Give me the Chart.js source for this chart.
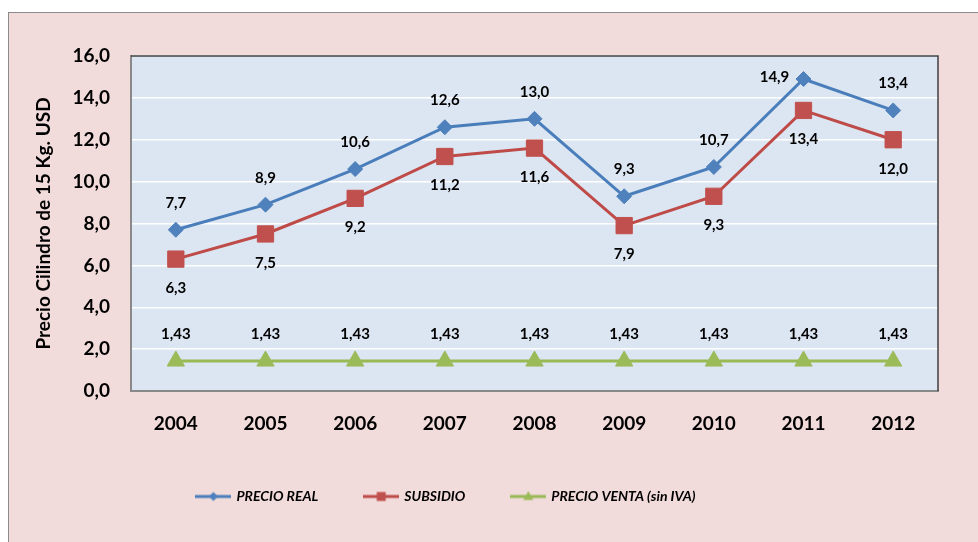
<!DOCTYPE html>
<html>
<head>
<meta charset="utf-8">
<script src="https://cdn.jsdelivr.net/npm/chart.js@4.4.0/dist/chart.umd.min.js"></script>
<style>
html,body{margin:0;padding:0;background:#fff;width:978px;height:542px;overflow:hidden;}
#frame{position:absolute;left:8px;top:12px;width:990px;height:560px;background:#f2dcdb;border-left:1px solid #8c8c8c;border-top:1px solid #8c8c8c;}
#c{position:absolute;left:0;top:0;}
</style>
</head>
<body>
<div id="frame"></div>
<canvas id="c" width="978" height="542"></canvas>
<script>
// ---- data ----
const years = ['2004','2005','2006','2007','2008','2009','2010','2011','2012'];
const precioReal = [7.7, 8.9, 10.6, 12.6, 13.0, 9.3, 10.7, 14.9, 13.4];
const subsidio = [6.3, 7.5, 9.2, 11.2, 11.6, 7.9, 9.3, 13.4, 12.0];
const precioVenta = [1.43, 1.43, 1.43, 1.43, 1.43, 1.43, 1.43, 1.43, 1.43];
const seriesNames = ['PRECIO REAL', 'SUBSIDIO', 'PRECIO VENTA (sin IVA)'];
const yTickValues = [0, 2, 4, 6, 8, 10, 12, 14, 16];
const yTitle = 'Precio Cilindro de 15 Kg. USD';

// ---- styles ----
const FONT = 'Lato';
const colors = {
  real: {line: '#4a7ebb', fill: '#4f81bd'},
  sub: {line: '#be4b48', fill: '#c0504d'},
  venta: {line: '#98b954', fill: '#9bbb59'}
};

function fmt(v, d) { return v.toFixed(d).replace('.', ','); }

// legend images: line with marker
function legendImage(col, kind) {
  const c = document.createElement('canvas');
  c.width = 36; c.height = 16;
  const g = c.getContext('2d');
  g.strokeStyle = col.line; g.lineWidth = 3;
  g.beginPath(); g.moveTo(0, 8); g.lineTo(36, 8); g.stroke();
  g.fillStyle = col.fill;
  g.beginPath();
  if (kind === 'diamond') {
    g.moveTo(18, 3.5); g.lineTo(22.5, 8); g.lineTo(18, 12.5); g.lineTo(13.5, 8);
  } else if (kind === 'square') {
    g.rect(13.5, 3.5, 9, 9);
  } else {
    g.moveTo(18, 2.5); g.lineTo(23, 11.5); g.lineTo(13, 11.5);
  }
  g.closePath(); g.fill();
  return c;
}
const legendImgs = [
  legendImage(colors.real, 'diamond'),
  legendImage(colors.sub, 'square'),
  legendImage(colors.venta, 'triangle')
];

const plotAreaPlugin = {
  id: 'plotArea',
  beforeDraw(chart) {
    const {ctx, chartArea: a} = chart;
    ctx.save();
    ctx.fillStyle = '#dce6f2';
    ctx.fillRect(a.left, a.top, a.right - a.left, a.bottom - a.top);
    ctx.restore();
  },
  beforeDatasetsDraw(chart) {
    const {ctx, chartArea: a} = chart;
    ctx.save();
    ctx.strokeStyle = '#3f3f3f';
    ctx.lineWidth = 1.5;
    ctx.beginPath();
    ctx.moveTo(a.left, a.top); ctx.lineTo(a.right, a.top); ctx.lineTo(a.right, a.bottom);
    ctx.stroke();
    ctx.restore();
  }
};

const pointLabelsPlugin = {
  id: 'pointLabels',
  afterDatasetsDraw(chart) {
    const ctx = chart.ctx;
    ctx.save();
    ctx.font = 'bold 15px ' + FONT;
    ctx.fillStyle = '#000';
    ctx.textAlign = 'center';
    ctx.textBaseline = 'middle';
    chart.data.datasets.forEach((ds, i) => {
      const meta = chart.getDatasetMeta(i);
      meta.data.forEach((pt, j) => {
        const pos = (ds.labelPos && ds.labelPos[j]) || ds.labelDefault;
        let x = pt.x, y = pt.y;
        if (pos === 'above') y -= 27;
        else if (pos === 'below') y += 29;
        else if (pos === 'left') { x -= 29; y -= 2; }
        ctx.fillText(fmt(ds.data[j], ds.decimals), x, y);
      });
    });
    ctx.restore();
  }
};

const tickFont = {family: FONT, size: 19, weight: 'bold'};

new Chart(document.getElementById('c'), {
  type: 'line',
  data: {
    labels: years,
    datasets: [
      {
        label: seriesNames[0], data: precioReal,
        borderColor: colors.real.line, backgroundColor: colors.real.fill,
        pointBackgroundColor: colors.real.fill, pointBorderColor: colors.real.fill,
        borderWidth: 3, pointStyle: 'rectRot', pointRadius: 7.5, pointBorderWidth: 1,
        tension: 0, decimals: 1, labelDefault: 'above',
        labelPos: [null, null, null, null, null, null, null, 'left', null]
      },
      {
        label: seriesNames[1], data: subsidio,
        borderColor: colors.sub.line, backgroundColor: colors.sub.fill,
        pointBackgroundColor: colors.sub.fill, pointBorderColor: colors.sub.fill,
        borderWidth: 3, pointStyle: 'rect', pointRadius: 11.5, pointBorderWidth: 1,
        tension: 0, decimals: 1, labelDefault: 'below'
      },
      {
        label: seriesNames[2], data: precioVenta,
        borderColor: colors.venta.line, backgroundColor: colors.venta.fill,
        pointBackgroundColor: colors.venta.fill, pointBorderColor: colors.venta.fill,
        borderWidth: 3, pointStyle: 'triangle', pointRadius: 10, pointBorderWidth: 1,
        tension: 0, decimals: 2, labelDefault: 'above'
      }
    ]
  },
  options: {
    responsive: false,
    animation: false,
    events: [],
    layout: {padding: {left: -45, right: 40, top: 56, bottom: 28.5}},
    plugins: {
      tooltip: {enabled: false},
      legend: {
        position: 'bottom',
        align: 'center',
        labels: {
          usePointStyle: true,
          pointStyleWidth: 32,
          padding: 47,
          color: '#000',
          font: {family: FONT, size: 14, weight: 'bold', style: 'italic'},
          generateLabels(chart) {
            const items = Chart.defaults.plugins.legend.labels.generateLabels(chart);
            items.forEach((it, i) => { it.pointStyle = legendImgs[i]; it.rotation = 0; });
            return items;
          }
        }
      }
    },
    scales: {
      x: {
        offset: true,
        grid: {display: false, drawTicks: false},
        border: {color: '#898989', width: 2},
        ticks: {color: '#000', font: tickFont, padding: 21},
        afterFit(s) { s.height = 51.5; }
      },
      y: {
        min: 0, max: 16,
        grid: {color: '#ffffff', lineWidth: 1.5, drawTicks: false},
        border: {color: '#898989', width: 2},
        ticks: {
          color: '#000', font: tickFont, padding: 21,
          callback: v => fmt(v, 1)
        },
        afterBuildTicks(s) { s.ticks = yTickValues.map(v => ({value: v})); },
        title: {
          display: true, text: yTitle, color: '#000',
          font: {family: FONT, size: 19, weight: 'bold'},
          padding: {top: 77.5, bottom: 0}
        },
        afterFit(s) { s.width = 176; }
      }
    }
  },
  plugins: [plotAreaPlugin, pointLabelsPlugin]
});
</script>
</body>
</html>
